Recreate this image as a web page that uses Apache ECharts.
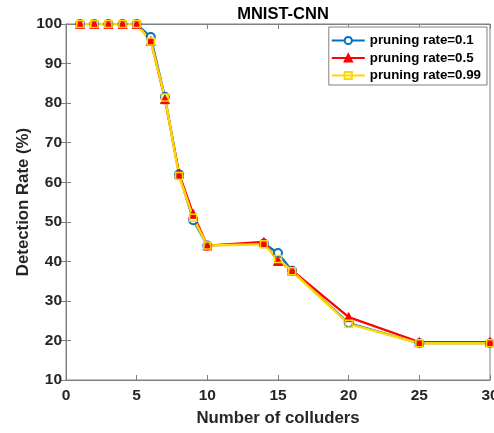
<!DOCTYPE html>
<html><head><meta charset="utf-8">
<script src="https://cdn.jsdelivr.net/npm/echarts@6/dist/echarts.min.js"></script>
<style>html,body{margin:0;padding:0;background:#fff}#c{width:494px;height:433px}</style>
</head><body><div id="c"></div>
<script>
const xValues = [1,2,3,4,5,6,7,8,9,10,14,15,16,20,25,30];
const rate01 = [100,100,100,100,100,96.7,81.6,62,50.4,44,44.5,42.1,37.6,24.4,19.3,19.3];
const rate05 = [100,100,100,100,100,95.7,81,62.2,52,44,44.9,40.1,37.7,25.9,19.6,19.6];
const rate099 = [100,100,100,100,100,95.6,81.4,61.6,51,44,44.3,40.6,37.5,24.2,19.3,19.3];
const seriesNames = ['pruning rate=0.1','pruning rate=0.5','pruning rate=0.99'];
const xTicks = [0,5,10,15,20,25,30];
const yTicks = [10,20,30,40,50,60,70,80,90,100];

const font = 'Liberation Sans, Arial, sans-serif';
const axisGray = '#808080';
const textCol = '#262626';
function pairs(vals){ return xValues.map((x,i)=>[x,vals[i]]); }

const chart = echarts.init(document.getElementById('c'), null, {renderer:'canvas'});
const common = { type:'line', lineStyle:{width:2}, symbolSize:7, z:2 };
chart.setOption({
  animation:false,
  backgroundColor:'#fff',
  title:{text:'MNIST-CNN', left:278, top:1, textAlign:'center',
    textStyle:{fontFamily:font, fontWeight:'bold', fontSize:16.5, color:'#000'}},
  grid:{left:66, right:4, top:24, bottom:53, outerBoundsMode:'none', containLabel:false,
    show:true, borderColor:axisGray, borderWidth:1, backgroundColor:'#fff'},
  legend:{
    orient:'vertical', right:7, top:27, data:seriesNames,
    itemWidth:33, itemHeight:9, itemGap:4.5,
    backgroundColor:'#fff', borderColor:axisGray, borderWidth:1, padding:[7,6,3,2],
    textStyle:{fontFamily:font, fontWeight:'bold', fontSize:13.3, color:'#000'}
  },
  xAxis:[{
    type:'value', min:0, max:30, interval:5, position:'bottom',
    name:'Number of colluders', nameLocation:'middle', nameGap:30, nameMoveOverlap:false,
    nameTextStyle:{fontFamily:font, fontWeight:'bold', fontSize:16.8, color:textCol},
    axisLine:{show:true, lineStyle:{color:axisGray}},
    axisTick:{show:true, inside:true, length:5, lineStyle:{color:axisGray}},
    axisLabel:{fontFamily:font, fontWeight:'bold', fontSize:15.5, color:textCol, margin:8,
      formatter:v=>xTicks.includes(v)?String(v):''},
    splitLine:{show:false}
  },{
    type:'value', min:0, max:30, interval:5, position:'top',
    axisLine:{show:true, lineStyle:{color:axisGray}},
    axisTick:{show:true, inside:true, length:5, lineStyle:{color:axisGray}},
    axisLabel:{show:false}, splitLine:{show:false}
  }],
  yAxis:[{
    type:'value', min:10, max:100, interval:10, position:'left',
    name:'Detection Rate (%)', nameLocation:'middle', nameGap:34, nameMoveOverlap:false,
    nameTextStyle:{fontFamily:font, fontWeight:'bold', fontSize:16.8, color:textCol},
    axisLine:{show:true, lineStyle:{color:axisGray}},
    axisTick:{show:true, inside:true, length:5, lineStyle:{color:axisGray}},
    axisLabel:{fontFamily:font, fontWeight:'bold', fontSize:15.5, color:textCol, margin:4,
      formatter:v=>yTicks.includes(v)?String(v):''},
    splitLine:{show:false}
  },{
    type:'value', min:10, max:100, interval:10, position:'right',
    axisLine:{show:true, lineStyle:{color:axisGray}},
    axisTick:{show:true, inside:true, length:5, lineStyle:{color:axisGray}},
    axisLabel:{show:false}, splitLine:{show:false}
  }],
  series:[
    Object.assign({}, common, {name:seriesNames[0], data:pairs(rate01), color:'#0072BD',
      symbol:'circle', symbolSize:8,
      itemStyle:{color:'#fff', borderColor:'#0072BD', borderWidth:2},
      lineStyle:{width:2.2, color:'#0072BD'}}),
    Object.assign({}, common, {name:seriesNames[1], data:pairs(rate05), color:'#FF0000',
      symbol:'triangle', symbolSize:9,
      itemStyle:{color:'#FF0000', borderColor:'#FF0000', borderWidth:1},
      lineStyle:{width:2.2, color:'#FF0000'}}),
    Object.assign({}, common, {name:seriesNames[2], data:pairs(rate099), color:'#FFD700',
      symbol:'rect', symbolSize:7,
      itemStyle:{color:'rgba(255,255,255,0)', borderColor:'#FFD700', borderWidth:1.5},
      lineStyle:{width:2.5, color:'#FFD700'}})
  ]
});
</script></body></html>
